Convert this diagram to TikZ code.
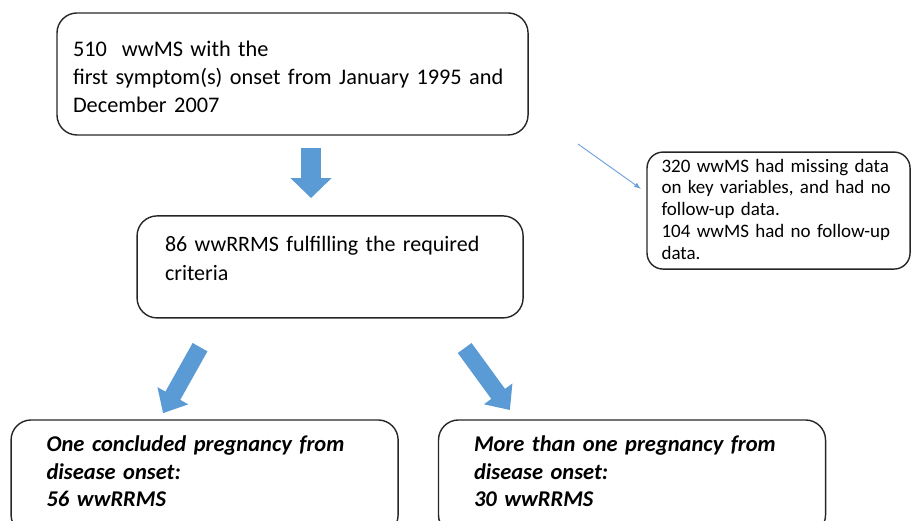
\documentclass[tikz,border=0pt]{standalone}
\usepackage{fontspec}
\setmainfont{Carlito}
\usepackage{xcolor}
\usepackage{tikz}
\usetikzlibrary{positioning,arrows.meta}
\definecolor{arrowblue}{RGB}{91,155,213}
\definecolor{thinblue}{RGB}{105,160,215}

\begin{document}
\begin{tikzpicture}[
    box/.style={rectangle, draw=black!85, line width=1.4pt, rounded corners=20pt, align=left, inner ysep=0pt},
    bigbox/.style={box, font=\fontsize{22}{28}\selectfont},
    sidebox/.style={box, rounded corners=16pt, font=\fontsize{19}{21.8}\selectfont},
    outcome/.style={box, font=\fontsize{22.5}{27.5}\selectfont\bfseries\itshape, text width=316pt, inner xsep=35.5pt, text height=32pt, text depth=83pt},
    blockarrow/.style={draw=arrowblue, line width=20pt, -{Triangle[length=20pt, width=40pt]}},
    slantarrow/.style={draw=arrowblue, line width=17pt, -{Triangle[length=20pt, width=34pt]}},
    thinarrow/.style={draw=thinblue, line width=0.9pt, -{Latex[length=7pt, width=5pt]}}
]

\clip (0,0) rectangle (32.05,-18.28);

% cohort
\node[bigbox, font=\fontsize{22.3}{28}\selectfont, text width=439pt, inner xsep=16pt, text height=44pt, text depth=78pt] (onset) at (10.28,-2.60)
    {510\ \ wwMS with the\\first symptom(s) onset from January 1995 and\\December 2007};

% excluded
\node[sidebox, text width=234pt, inner xsep=14.5pt, text height=20pt, text depth=97pt] (excluded) at (27.36,-7.40)
    {320 wwMS had missing data\\on key variables, and had no\\follow-up data.\\104 wwMS had no follow-up\\data.};

% eligible
\node[bigbox, font=\fontsize{22}{29}\selectfont, text width=330pt, inner xsep=28pt, text height=36pt, text depth=66pt] (eligible) at (11.60,-9.38)
    {86 wwRRMS fulfilling the required\\criteria};

% pregnancy groups
\node[outcome] (single) at (7.19,-16.78)
    {One concluded pregnancy from\\disease onset:\\56 wwRRMS};
\node[outcome, right=1.37cm of single] (multiple)
    {More than one pregnancy from\\disease onset:\\30 wwRRMS};

% arrows
\coordinate (d1) at (10.93,-5.20);
\coordinate (d2) at (10.93,-6.96);
\coordinate (l1) at (7.03,-12.20);
\coordinate (l2) at (5.73,-14.52);
\coordinate (r1) at (16.33,-12.23);
\coordinate (r2) at (17.92,-14.41);
\coordinate (x1) at (20.31,-5.06);
\coordinate (x2) at (22.53,-6.64);

\draw[blockarrow] (d1) -- (d2);
\draw[slantarrow] (l1) -- (l2);
\draw[slantarrow] (r1) -- (r2);
\draw[thinarrow] (x1) -- (x2);

\end{tikzpicture}
\end{document}
